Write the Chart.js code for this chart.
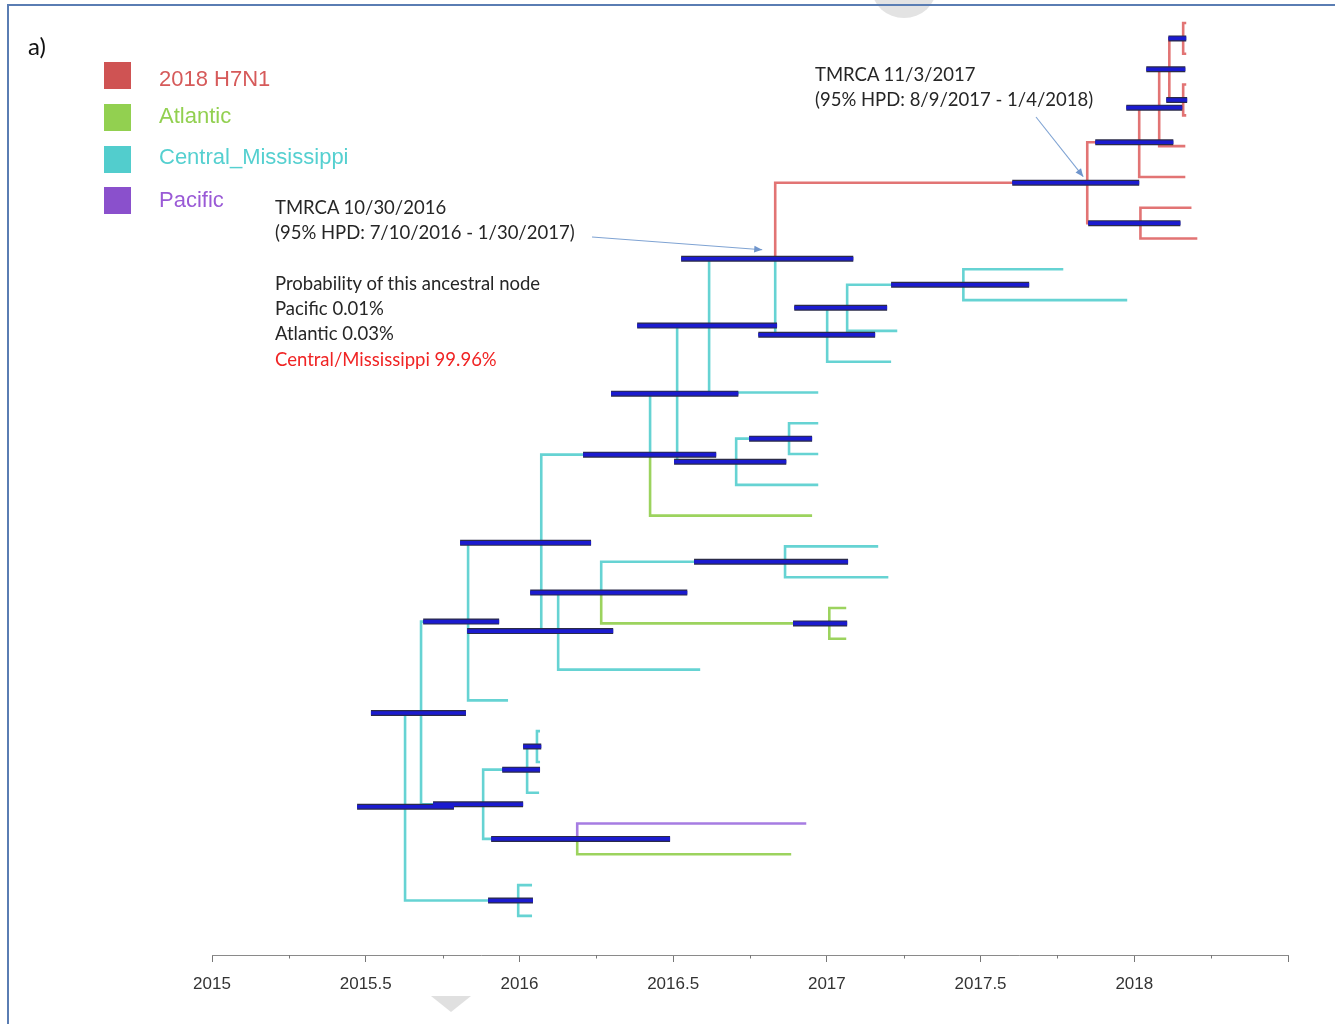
<!DOCTYPE html>
<html>
<head>
<meta charset="utf-8">
<script src="https://cdn.jsdelivr.net/npm/chart.js@4.4.1/dist/chart.umd.min.js"></script>
<style>
html,body{margin:0;padding:0;background:#fff;}
body{width:1335px;height:1024px;position:relative;overflow:hidden;}
#frame{position:absolute;left:7px;top:4px;width:1345px;height:1040px;border:2px solid #5a7db3;box-sizing:border-box;pointer-events:none;}
#c{position:absolute;left:0;top:0;}
.t{position:absolute;white-space:nowrap;}
.sq{position:absolute;left:104px;width:27px;height:27px;}
.lg{position:absolute;left:159px;font-family:"Liberation Sans",Arial,sans-serif;font-size:22px;line-height:22px;}
.an{position:absolute;font-family:Lato,"Open Sans",sans-serif;font-size:18.5px;line-height:25.3px;color:#262626;white-space:nowrap;}
.blob1{position:absolute;left:872px;top:-40px;width:64px;height:58px;border-radius:50%;background:#e3e3e3;}
.blob2{position:absolute;left:431px;top:996px;width:0;height:0;border-left:20px solid transparent;border-right:20px solid transparent;border-top:16px solid #e0e0e0;}
</style>
</head>
<body>
<div class="blob1"></div>
<div class="blob2"></div>
<canvas id="c" width="1335" height="1024"></canvas>
<div id="frame"></div>

<div class="t" style="left:28px;top:34px;font-family:Lato,sans-serif;font-size:24px;line-height:24px;color:#111;">a)</div>

<div class="sq" style="top:62px;background:#cf5353;"></div>
<div class="sq" style="top:104px;background:#92d050;"></div>
<div class="sq" style="top:146px;background:#52cdcd;"></div>
<div class="sq" style="top:187px;background:#8a50cc;"></div>
<div class="lg" id="lg0" style="top:68px;color:#d65a5a;"></div>
<div class="lg" id="lg1" style="top:105px;color:#92d050;"></div>
<div class="lg" id="lg2" style="top:146px;color:#55d0d0;"></div>
<div class="lg" id="lg3" style="top:189px;color:#9a5ad6;"></div>

<div class="an" style="left:275px;top:195px;">TMRCA 10/30/2016<br>(95% HPD: 7/10/2016 - 1/30/2017)<br><br>Probability of this ancestral node<br>Pacific 0.01%<br>Atlantic 0.03%<br><span style="color:#f02424;">Central/Mississippi 99.96%</span></div>
<div class="an" style="left:815px;top:62px;">TMRCA 11/3/2017<br>(95% HPD: 8/9/2017 - 1/4/2018)</div>

<script>
// ---- data ----
const stateNames = ['2018 H7N1', 'Atlantic', 'Central_Mississippi', 'Pacific'];

// tip sampling dates (decimal years), tips listed top to bottom
const tipDates = [2018.169, 2018.169, 2018.169, 2018.169, 2018.166, 2018.166, 2018.186, 2018.205,
  2017.769, 2017.977, 2017.229, 2017.209, 2016.972, 2016.972, 2016.972, 2016.972,
  2016.952, 2017.167, 2017.200, 2017.063, 2017.063, 2016.588, 2015.963,
  2016.067, 2016.067, 2016.064, 2016.933, 2016.884, 2016.041, 2016.041];
const tipStates = [0,0,0,0,0,0,0,0, 2,2,2,2,2,2,2,2, 1, 2,2, 1,1, 2,2,2,2,2, 3,1, 2,2];

// internal nodes
const nodeNames = ['root','A','B','C','D','E','F','G','H','I','J','K','L','M','P','Q','R','S','T','U','V','V1','V2','W','X','Y','Z','Z1','Z2'];
const nodeChildren = [
  ['A','B'], ['C','D'], ['t28','t29'], ['E','t22'], ['F','G'], ['I','J'], ['H','t25'], ['t26','t27'],
  ['t23','t24'], ['P','t16'], ['K','t21'], ['L','M'], ['t17','t18'], ['t19','t20'], ['Q','R'],
  ['T','t12'], ['S','t15'], ['t13','t14'], ['U','V'], ['W','X'], ['V1','t11'], ['V2','t10'],
  ['t8','t9'], ['Y','t5'], ['t6','t7'], ['Z','t4'], ['Z1','Z2'], ['t0','t1'], ['t2','t3']];
const nodeDates = [2015.628, 2015.680, 2015.996, 2015.833, 2015.882, 2016.071, 2016.025, 2016.188,
  2016.057, 2016.425, 2016.126, 2016.266, 2016.864, 2017.008, 2016.513, 2016.617, 2016.705,
  2016.877, 2016.832, 2017.847, 2017.001, 2017.066, 2017.444, 2018.016, 2018.020, 2018.081,
  2018.114, 2018.159, 2018.159];
const hpdLow = [2015.472, 2015.517, 2015.898, 2015.687, 2015.719, 2015.807, 2015.944, 2015.908,
  2016.012, 2016.207, 2015.830, 2016.035, 2016.568, 2016.890, 2016.298, 2016.383, 2016.503,
  2016.747, 2016.526, 2017.603, 2016.777, 2016.894, 2017.209, 2017.873, 2017.850, 2017.974,
  2018.039, 2018.111, 2018.104];
const hpdHigh = [2015.787, 2015.826, 2016.044, 2015.934, 2016.012, 2016.233, 2016.067, 2016.490,
  2016.071, 2016.640, 2016.305, 2016.546, 2017.069, 2017.066, 2016.712, 2016.838, 2016.868,
  2016.952, 2017.086, 2018.016, 2017.157, 2017.196, 2017.658, 2018.127, 2018.150, 2018.156,
  2018.166, 2018.169, 2018.172];
const nodeStates = [2,2,2,2,2,2,2,2,2,2,2,2,2,1,2,2,2,2,2,0,2,2,2,0,0,0,0,0,0];

const xTickLabels = ['2015','2015.5','2016','2016.5','2017','2017.5','2018'];

// ---- styles ----
const branchColors = ['#e27474', '#9cd35e', '#66d3d3', '#a67ce2'];

stateNames.forEach((s,i)=>{ document.getElementById('lg'+i).textContent = s; });

// ---- tree layout (rectangular, tips evenly spaced) ----
const pos = {};
tipDates.forEach((d,i)=>{ pos['t'+i] = {x:d, y:i, state:tipStates[i]}; });
function layout(name){
  if (pos[name]) return pos[name];
  const k = nodeNames.indexOf(name);
  const ys = nodeChildren[k].map(c=>layout(c).y);
  pos[name] = {x:nodeDates[k], y:(Math.min(...ys)+Math.max(...ys))/2, state:nodeStates[k], k};
  return pos[name];
}
layout('root');

const branchData = stateNames.map(()=>[]);
nodeNames.forEach((n,k)=>{
  const p = pos[n];
  nodeChildren[k].forEach(c=>{
    const q = pos[c];
    branchData[q.state].push({x:p.x,y:p.y},{x:p.x,y:q.y},{x:q.x,y:q.y},{x:q.x,y:null});
  });
});
const hpdData = [];
nodeNames.forEach((n,k)=>{
  const y = pos[n].y;
  hpdData.push({x:hpdLow[k],y},{x:hpdHigh[k],y},{x:hpdHigh[k],y:null});
});

const datasets = [
  {data:hpdData, borderColor:'#1b1bcf', borderWidth:3.6, order:0},
  {data:hpdData, borderColor:'#2b2b48', borderWidth:6, order:1}
];
branchData.forEach((d,i)=>datasets.push({data:d, borderColor:branchColors[i], borderWidth:2.6, order:2}));
datasets.forEach(ds=>Object.assign(ds,{pointRadius:0, tension:0, spanGaps:false, borderCapStyle:'butt', borderJoinStyle:'miter', fill:false}));

const extras = {
  id:'extras',
  afterDraw(chart){
    const {ctx, scales:{x, y}, chartArea} = chart;
    // minor ticks
    ctx.save();
    ctx.strokeStyle = '#777'; ctx.lineWidth = 1;
    for (let v = 2015.25; v < 2018.5; v += 0.5){
      const px = Math.round(x.getPixelForValue(v)) + 0.5;
      ctx.beginPath(); ctx.moveTo(px, chartArea.bottom); ctx.lineTo(px, chartArea.bottom + 3.5); ctx.stroke();
    }
    // arrows
    const arrow = (x0,y0,x1,y1)=>{
      ctx.strokeStyle = '#7fa3d3'; ctx.fillStyle = '#6f95cc'; ctx.lineWidth = 1.1;
      ctx.beginPath(); ctx.moveTo(x0,y0); ctx.lineTo(x1,y1); ctx.stroke();
      const a = Math.atan2(y1-y0, x1-x0), L = 8, W = 3.5;
      ctx.beginPath();
      ctx.moveTo(x1,y1);
      ctx.lineTo(x1 - L*Math.cos(a) + W*Math.sin(a), y1 - L*Math.sin(a) - W*Math.cos(a));
      ctx.lineTo(x1 - L*Math.cos(a) - W*Math.sin(a), y1 - L*Math.sin(a) + W*Math.cos(a));
      ctx.closePath(); ctx.fill();
    };
    const T = pos['T'], U = pos['U'];
    arrow(592, 237, x.getPixelForValue(T.x) - 13, y.getPixelForValue(T.y) - 9);
    arrow(1036, 117, x.getPixelForValue(U.x) - 4, y.getPixelForValue(U.y) - 6);
    ctx.restore();
  }
};

new Chart(document.getElementById('c'), {
  type:'line',
  data:{datasets},
  options:{
    responsive:false, animation:false, devicePixelRatio:1,
    layout:{padding:{left:212, right:47, top:10, bottom:0}},
    plugins:{legend:{display:false}, tooltip:{enabled:false}},
    events:[],
    scales:{
      x:{
        type:'linear', min:2015, max:2018.5, position:'bottom',
        afterFit(s){ s.height = 69; },
        border:{display:true, color:'#8a8a8a', width:1},
        grid:{drawOnChartArea:false, drawTicks:true, tickLength:7, tickColor:'#777', tickWidth:1},
        ticks:{
          stepSize:0.5, autoSkip:false, maxRotation:0, padding:12,
          color:'#333', font:{family:'"Liberation Sans", Arial, sans-serif', size:17},
          callback(v){ const i = Math.round((v-2015)*2); return (Math.abs((v-2015)*2 - i) < 1e-6 && i < xTickLabels.length) ? xTickLabels[i] : ''; }
        }
      },
      y:{type:'linear', display:false, reverse:true, min:-0.422, max:30.27}
    }
  },
  plugins:[extras]
});
</script>
</body>
</html>
